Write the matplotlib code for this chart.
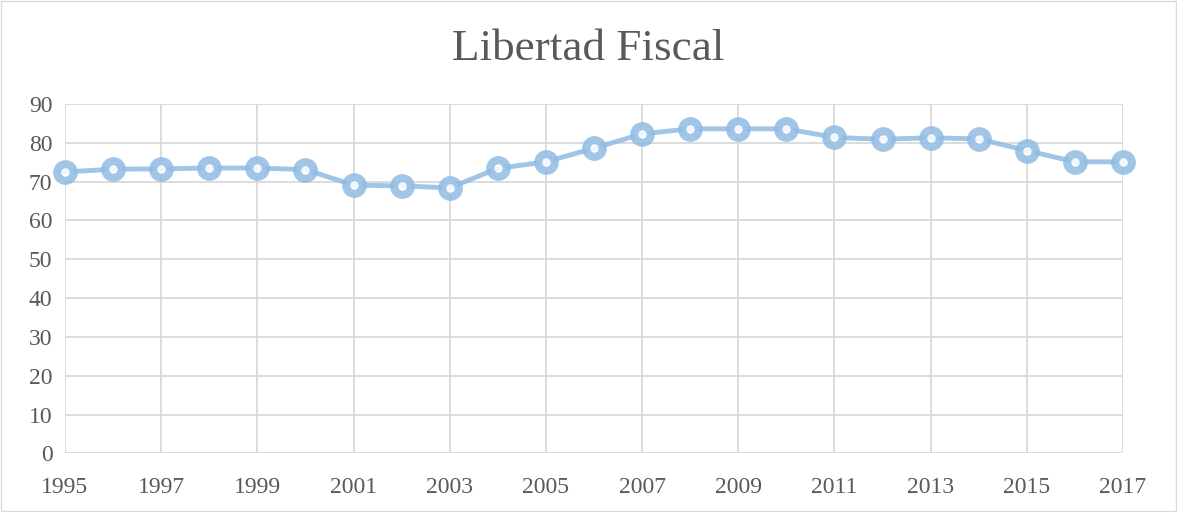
import matplotlib.pyplot as plt
from matplotlib.patches import Rectangle

# values
years = list(range(1995, 2018))
fiscal = [72.5, 73.2, 73.3, 73.5, 73.5, 73.1, 69.1, 68.9, 68.4, 73.4, 75.1, 78.6,
          82.3, 83.6, 83.6, 83.6, 81.4, 80.9, 81.3, 81.0, 78.0, 75.1, 75.1]
x_ticks = list(range(1995, 2018, 2))
y_ticks = list(range(0, 91, 10))

plt.rcParams["font.family"] = ["Liberation Serif", "DejaVu Serif"]

fig = plt.figure(figsize=(11.77, 5.12), dpi=100)
ax = fig.add_axes([0.0552, 0.1146, 0.9541 - 0.0552, 0.7969 - 0.1146])

blue = "#8FBBE3"
ax.plot(years, fiscal, color=blue, linewidth=3.5, alpha=0.85, zorder=3, clip_on=False)
ax.plot(years, fiscal, linestyle="none", marker="o", markersize=12.0,
        markeredgewidth=5.8, markerfacecolor="white", markeredgecolor=blue,
        alpha=0.85, zorder=4, clip_on=False)

ax.set_xlim(1995, 2017)
ax.set_ylim(0, 90)
ax.set_xticks(x_ticks)
ax.set_yticks(y_ticks)
ax.tick_params(length=0, labelsize=17, colors="#595959")
ax.tick_params(axis="y", pad=9)
ax.tick_params(axis="x", pad=17)
ax.grid(True, color="#D9D9D9", linewidth=1.3)
ax.set_axisbelow(True)
for s in ax.spines.values():
    s.set_visible(False)

fig.text(0.5, 0.904, "Libertad Fiscal", ha="center", va="center",
         fontsize=32.5, color="#595959")

# outer chart border
fig.patches.append(Rectangle((0.001, 0.002), 0.998, 0.996, transform=fig.transFigure,
                             fill=False, edgecolor="#D9D9D9", linewidth=1))

fig.savefig("out.png", dpi=100)
